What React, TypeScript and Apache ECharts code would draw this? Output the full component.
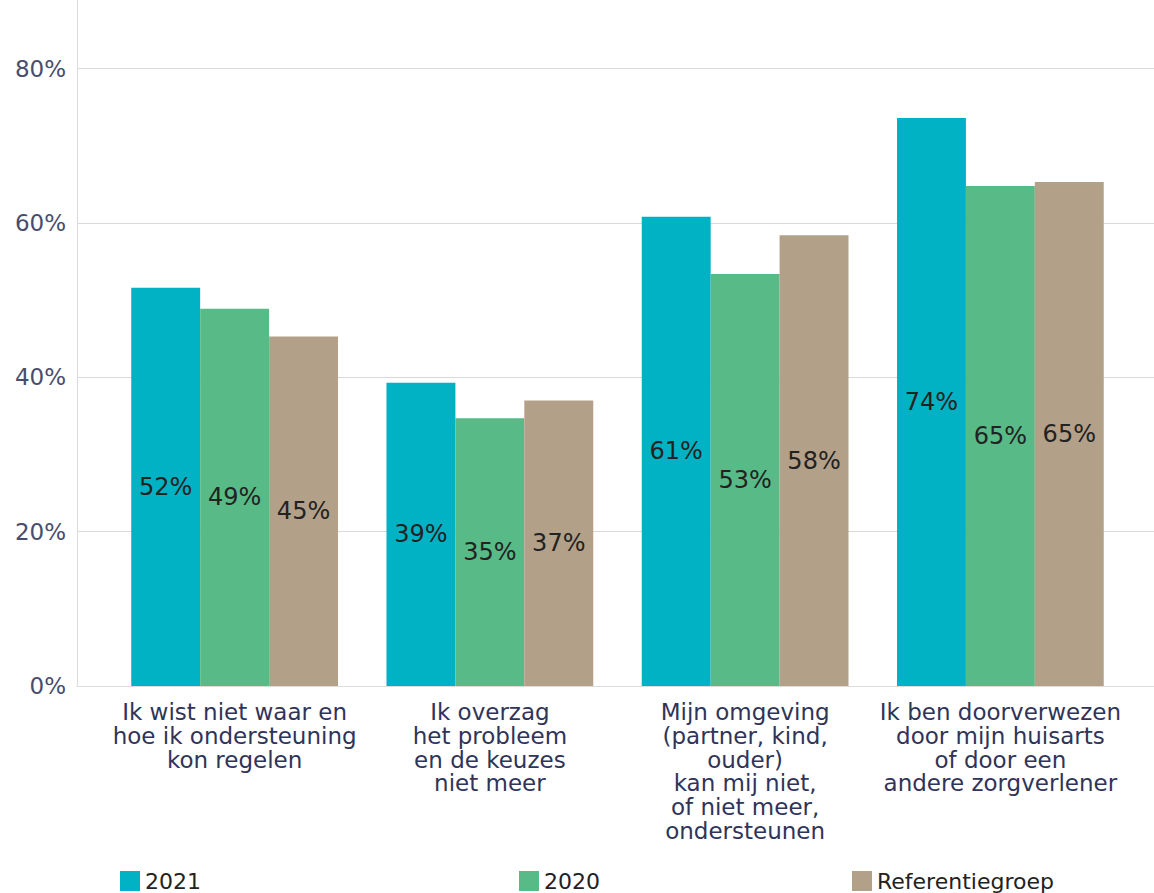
import React, { useEffect, useRef } from "react";
import * as echarts from "echarts";

const categories = [
  "Ik wist niet waar en\nhoe ik ondersteuning\nkon regelen",
  "Ik overzag\nhet probleem\nen de keuzes\nniet meer",
  "Mijn omgeving\n(partner, kind,\nouder)\nkan mij niet,\nof niet meer,\nondersteunen",
  "Ik ben doorverwezen\ndoor mijn huisarts\nof door een\nandere zorgverlener",
];
const seriesNames = ["2021", "2020", "Referentiegroep"];
const values2021 = [51.6, 39.3, 60.8, 73.6];
const values2020 = [48.9, 34.7, 53.4, 64.8];
const valuesRef = [45.3, 37.0, 58.4, 65.3];
const colors = ["#00B2C3", "#58BB87", "#B3A088"];
const yTicks = [0, 20, 40, 60, 80];

const FONT = "'DejaVu Sans', Verdana, sans-serif";

export default function App() {
  const ref = useRef<HTMLDivElement>(null);
  useEffect(() => {
    if (!ref.current) return;
    const chart = echarts.init(ref.current, undefined, { renderer: "svg" });
    const yMax = 88.9;
    const allValues = [values2021, values2020, valuesRef];
    const legendLefts = [120, 519, 852];
    chart.setOption({
      animation: false,
      textStyle: { fontFamily: FONT },
      grid: [
        { left: 77, right: 0, top: 0, bottom: 207 },
        { left: 107, right: 26, top: 0, bottom: 207 },
      ],
      legend: seriesNames.map((n, i) => ({
        data: [n],
        left: legendLefts[i],
        top: 870,
        padding: 0,
        itemWidth: 20,
        itemHeight: 20,
        icon: "rect",
        textStyle: { fontSize: 22, color: "#222", fontFamily: FONT },
      })),
      xAxis: [
        {
          gridIndex: 0,
          type: "value",
          min: 0,
          max: 1,
          axisLine: { show: true, onZero: false, lineStyle: { color: "#dcdcdc", width: 1 } },
          axisTick: { show: false },
          axisLabel: { show: false },
          splitLine: { show: false },
        },
        {
          gridIndex: 1,
          type: "category",
          data: categories,
          axisLine: { show: false },
          axisTick: { show: false },
          axisLabel: {
            interval: 0,
            margin: 14,
            fontSize: 23,
            lineHeight: 23.8,
            color: "#2f3458",
            fontFamily: FONT,
            align: "center",
          },
        },
      ],
      yAxis: [
        {
          gridIndex: 0,
          type: "value",
          min: 0,
          max: yMax,
          interval: 20,
          axisLine: { show: true, lineStyle: { color: "#dcdcdc", width: 1 } },
          axisTick: { show: false },
          axisLabel: {
            margin: 11,
            fontSize: 23,
            color: "#484d6e",
            fontFamily: FONT,
            padding: [8, 0, 0, 0],
            formatter: (v: number) => (yTicks.includes(v) ? v + "%" : ""),
            showMaxLabel: false,
          },
          splitLine: { show: true, showMaxLine: false, lineStyle: { color: "#d9d9d9", width: 1 } },
        },
        {
          gridIndex: 1,
          type: "value",
          min: 0,
          max: yMax,
          show: false,
          splitLine: { show: false },
        },
      ],
      series: seriesNames.map((n, i) => ({
        name: n,
        type: "bar",
        xAxisIndex: 1,
        yAxisIndex: 1,
        data: allValues[i],
        barGap: "0%",
        barCategoryGap: "19%",
        itemStyle: { color: colors[i] },
        label: {
          show: true,
          position: "inside",
          fontSize: 24,
          color: "#222",
          fontFamily: FONT,
          formatter: (p: any) => Math.round(p.value) + "%",
        },
      })),
    });
    return () => chart.dispose();
  }, []);
  return (
    <div
      ref={ref}
      style={{ position: "absolute", left: 0, top: 0, width: 1154, height: 893 }}
    />
  );
}
